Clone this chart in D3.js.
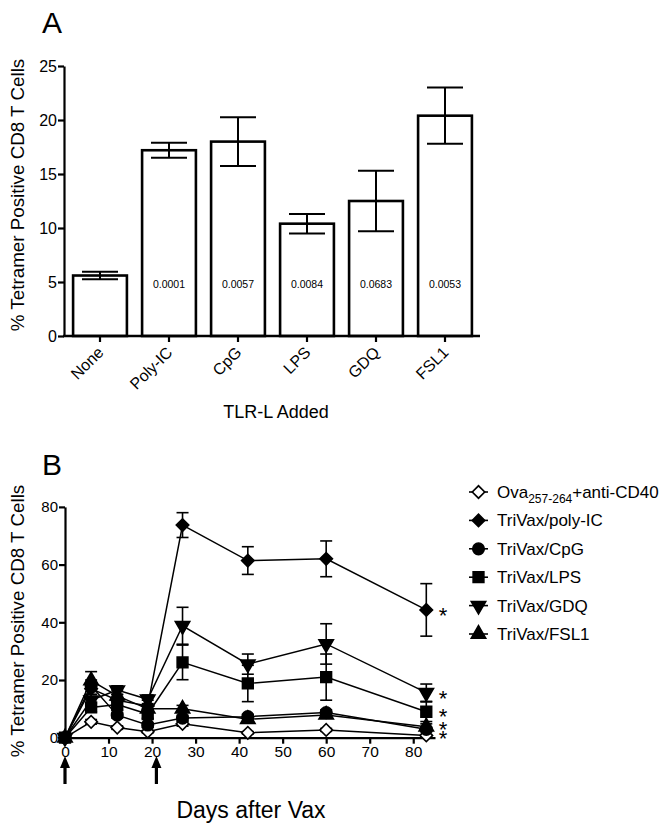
<!DOCTYPE html>
<html>
<head>
<meta charset="utf-8">
<script src="https://cdn.jsdelivr.net/npm/d3@7"></script>
<style>
  body { margin: 0; background: #fff; }
  svg { display: block; font-family: "Liberation Sans", Arial, sans-serif; }
  .axis path, .axis line { stroke: #000; stroke-width: 2.2; }
  .axis text { fill: #000; }
</style>
</head>
<body>
<div id="chart"></div>
<script>
// Panel A: bar chart
const barCats = ['None', 'Poly-IC', 'CpG', 'LPS', 'GDQ', 'FSL1'];
const barMeans = [5.6, 17.2, 18.0, 10.4, 12.5, 20.4];
const barErrs = [0.35, 0.7, 2.25, 0.9, 2.8, 2.6];
const barPvals = ['', '0.0001', '0.0057', '0.0084', '0.0683', '0.0053'];
const barTicks = [0, 5, 10, 15, 20, 25];

// Panel B: time course
const days = [0, 6, 12, 19, 27, 42, 60, 83];
const seriesNames = ['Ova', 'TriVax/poly-IC', 'TriVax/CpG', 'TriVax/LPS', 'TriVax/GDQ', 'TriVax/FSL1'];
const ovaVals = [0, 5.5, 3.5, 2.1, 4.8, 1.7, 2.7, 0.8];
const ovaErrs = [0, 0.8, 0.6, 0.4, 0.8, 0.4, 0.5, 0.3];
const polyVals = [0, 17, 13, 11, 73.7, 61.4, 62, 44.3];
const polyErrs = [0, 2, 2, 2, 4.3, 4.8, 6.2, 9.1];
const cpgVals = [0, 18, 7.8, 4.4, 6.8, 7.3, 8.7, 2.9];
const cpgErrs = [0, 2, 1, 0.8, 1, 0.8, 1, 0.8];
const lpsVals = [0, 10.5, 11.5, 8.2, 26.1, 18.8, 21, 9];
const lpsErrs = [0, 1.5, 2, 1.5, 6, 6.3, 8, 3.4];
const gdqVals = [0, 13, 16.5, 13.3, 38.8, 25.5, 32.5, 15.6];
const gdqErrs = [0, 2, 1.5, 1.5, 6.4, 3.5, 7, 3];
const fslVals = [0, 19.8, 14.5, 10, 10, 6.4, 7.9, 3.8];
const fslErrs = [0, 3.1, 2, 1, 1.2, 0.8, 1, 1];
const timeTicksY = [0, 20, 40, 60, 80];
const timeTicksX = [0, 10, 20, 30, 40, 50, 60, 70, 80];
const vaxDays = [0, 21];
const starLevels = [44.3, 15.6, 9.2, 4.6, 1.6];

const W = 670, H = 832;
const svg = d3.select('#chart').append('svg')
    .attr('width', W)
    .attr('height', H);
svg.append('rect').attr('width', W).attr('height', H).attr('fill', '#fff');

// ---------- Panel A ----------
const yA = d3.scaleLinear().domain([0, 25]).range([336, 66]);
const xA = d3.scaleBand().domain(barCats).range([65.5, 479.5])
    .paddingInner(0.22).paddingOuter(0.11);

svg.append('text').attr('x', 42).attr('y', 33)
    .attr('font-size', 30).text('A');

const gA = svg.append('g');

gA.selectAll('rect.bar')
    .data(barCats)
    .enter()
    .append('rect')
    .attr('class', 'bar')
    .attr('x', d => xA(d))
    .attr('y', (d, i) => yA(barMeans[i]))
    .attr('width', xA.bandwidth())
    .attr('height', (d, i) => yA(0) - yA(barMeans[i]))
    .attr('fill', '#fff')
    .attr('stroke', '#000')
    .attr('stroke-width', 2.6);

const capA = 18;
barCats.forEach((c, i) => {
    const cx = xA(c) + xA.bandwidth() / 2;
    const hi = yA(barMeans[i] + barErrs[i]), lo = yA(barMeans[i] - barErrs[i]);
    gA.append('line').attr('x1', cx).attr('x2', cx).attr('y1', hi).attr('y2', lo)
        .attr('stroke', '#000').attr('stroke-width', 2);
    [hi, lo].forEach(yy => {
        gA.append('line').attr('x1', cx - capA).attr('x2', cx + capA).attr('y1', yy).attr('y2', yy)
            .attr('stroke', '#000').attr('stroke-width', 2);
    });
    if (barPvals[i]) {
        gA.append('text').attr('x', cx).attr('y', 288)
            .attr('text-anchor', 'middle').attr('font-size', 10.5)
            .text(barPvals[i]);
    }
});

const axA = gA.append('g').attr('class', 'axis')
    .attr('transform', 'translate(64,0)')
    .call(d3.axisLeft(yA).tickValues(barTicks).tickSize(6).tickSizeOuter(0).tickPadding(1));
axA.selectAll('text').attr('font-size', 16);

const axAx = gA.append('g').attr('class', 'axis')
    .attr('transform', 'translate(0,336)')
    .call(d3.axisBottom(xA).tickSize(6).tickSizeOuter(0));
axAx.select('.domain').remove();
axAx.selectAll('text')
    .attr('font-size', 16)
    .attr('text-anchor', 'end')
    .attr('transform', 'translate(-4,9) rotate(-45)')
    .attr('dy', '0.75em')
    .attr('y', 0);
gA.append('line').attr('x1', 63).attr('x2', 480).attr('y1', 336).attr('y2', 336)
    .attr('stroke', '#000').attr('stroke-width', 2.4);

svg.append('text').attr('x', 276).attr('y', 418)
    .attr('text-anchor', 'middle').attr('font-size', 18).text('TLR-L Added');
svg.append('text')
    .attr('transform', 'translate(24,195) rotate(-90)')
    .attr('text-anchor', 'middle').attr('font-size', 18.8)
    .text('% Tetramer Positive CD8 T Cells');

// ---------- Panel B ----------
const yB = d3.scaleLinear().domain([0, 80]).range([737.7, 506.9]);
const xB = d3.scaleLinear().domain([0, 85]).range([65, 435]);

svg.append('text').attr('x', 42).attr('y', 475)
    .attr('font-size', 30).text('B');

const gB = svg.append('g');

const axB = gB.append('g').attr('class', 'axis')
    .attr('transform', 'translate(65,0)')
    .call(d3.axisLeft(yB).tickValues(timeTicksY).tickSize(6).tickSizeOuter(0).tickPadding(1));
axB.selectAll('text').attr('font-size', 15);

const axBx = gB.append('g').attr('class', 'axis')
    .attr('transform', 'translate(0,737.7)')
    .call(d3.axisBottom(xB).tickValues(timeTicksX).tickSize(6).tickSizeOuter(0).tickPadding(2));
axBx.selectAll('text').attr('font-size', 15.5);

const sym = {
    diamond: d3.symbol().type(d3.symbolSquare).size(78),
    circle: d3.symbol().type(d3.symbolCircle).size(105),
    square: d3.symbol().type(d3.symbolSquare).size(115),
    tri: d3.symbol().type(d3.symbolTriangle).size(90)
};
const seriesStyle = [
    { sym: 'diamond', rot: 45, fill: '#fff' },
    { sym: 'diamond', rot: 45, fill: '#000' },
    { sym: 'circle', rot: 0, fill: '#000' },
    { sym: 'square', rot: 0, fill: '#000' },
    { sym: 'tri', rot: 180, fill: '#000' },
    { sym: 'tri', rot: 0, fill: '#000' }
];
const seriesVals = [ovaVals, polyVals, cpgVals, lpsVals, gdqVals, fslVals];
const seriesErrs = [ovaErrs, polyErrs, cpgErrs, lpsErrs, gdqErrs, fslErrs];

function drawMarker(g, st, x, y) {
    g.append('path')
        .attr('d', sym[st.sym]())
        .attr('transform', `translate(${x},${y}) rotate(${st.rot})`)
        .attr('fill', st.fill)
        .attr('stroke', '#000')
        .attr('stroke-width', 1.6);
}

const line = d3.line().x(d => xB(d[0])).y(d => yB(d[1]));
const capB = 6;

seriesVals.forEach((vals, s) => {
    const errs = seriesErrs[s];
    const gs = gB.append('g');
    days.forEach((d, i) => {
        if (!errs[i]) return;
        const cx = xB(d);
        const hi = yB(vals[i] + errs[i]), lo = yB(Math.max(0, vals[i] - errs[i]));
        gs.append('line').attr('x1', cx).attr('x2', cx).attr('y1', hi).attr('y2', lo)
            .attr('stroke', '#000').attr('stroke-width', 1.6);
        [hi, lo].forEach(yy => {
            gs.append('line').attr('x1', cx - capB).attr('x2', cx + capB).attr('y1', yy).attr('y2', yy)
                .attr('stroke', '#000').attr('stroke-width', 1.6);
        });
    });
    gs.append('path')
        .datum(days.map((d, i) => [d, vals[i]]))
        .attr('d', line)
        .attr('fill', 'none')
        .attr('stroke', '#000')
        .attr('stroke-width', 1.5);
    days.forEach((d, i) => drawMarker(gs, seriesStyle[s], xB(d), yB(vals[i])));
});

// significance stars at the last time point
gB.selectAll('text.star')
    .data(starLevels)
    .enter()
    .append('text')
    .attr('class', 'star')
    .attr('x', 443)
    .attr('y', d => yB(d) + 13)
    .attr('text-anchor', 'middle')
    .attr('font-size', 22)
    .text('*');

// vaccination arrows
vaxDays.forEach(d => {
    const x = xB(d);
    gB.append('line').attr('x1', x).attr('x2', x).attr('y1', 766).attr('y2', 784)
        .attr('stroke', '#000').attr('stroke-width', 3.2);
    gB.append('path')
        .attr('d', `M${x},756 L${x - 5},768 L${x + 5},768 Z`)
        .attr('fill', '#000');
});

svg.append('text').attr('x', 251).attr('y', 818)
    .attr('text-anchor', 'middle').attr('font-size', 23).text('Days after Vax');
svg.append('text')
    .attr('transform', 'translate(24,621) rotate(-90)')
    .attr('text-anchor', 'middle').attr('font-size', 18.8)
    .text('% Tetramer Positive CD8 T Cells');

// legend
const legY0 = 492, legStep = 28.4;
seriesNames.forEach((name, s) => {
    const y = legY0 + s * legStep;
    gB.append('line').attr('x1', 469).attr('x2', 488).attr('y1', y).attr('y2', y)
        .attr('stroke', '#000').attr('stroke-width', 1.6);
    drawMarker(gB, seriesStyle[s], 478.5, y);
    const t = gB.append('text').attr('x', 497).attr('y', y + 6).attr('font-size', 17);
    if (s === 0) {
        t.append('tspan').text('Ova');
        t.append('tspan').attr('font-size', 12).attr('dy', 5).text('257-264');
        t.append('tspan').attr('dy', -5).text('+anti-CD40');
    } else {
        t.text(name);
    }
});
</script>
</body>
</html>
